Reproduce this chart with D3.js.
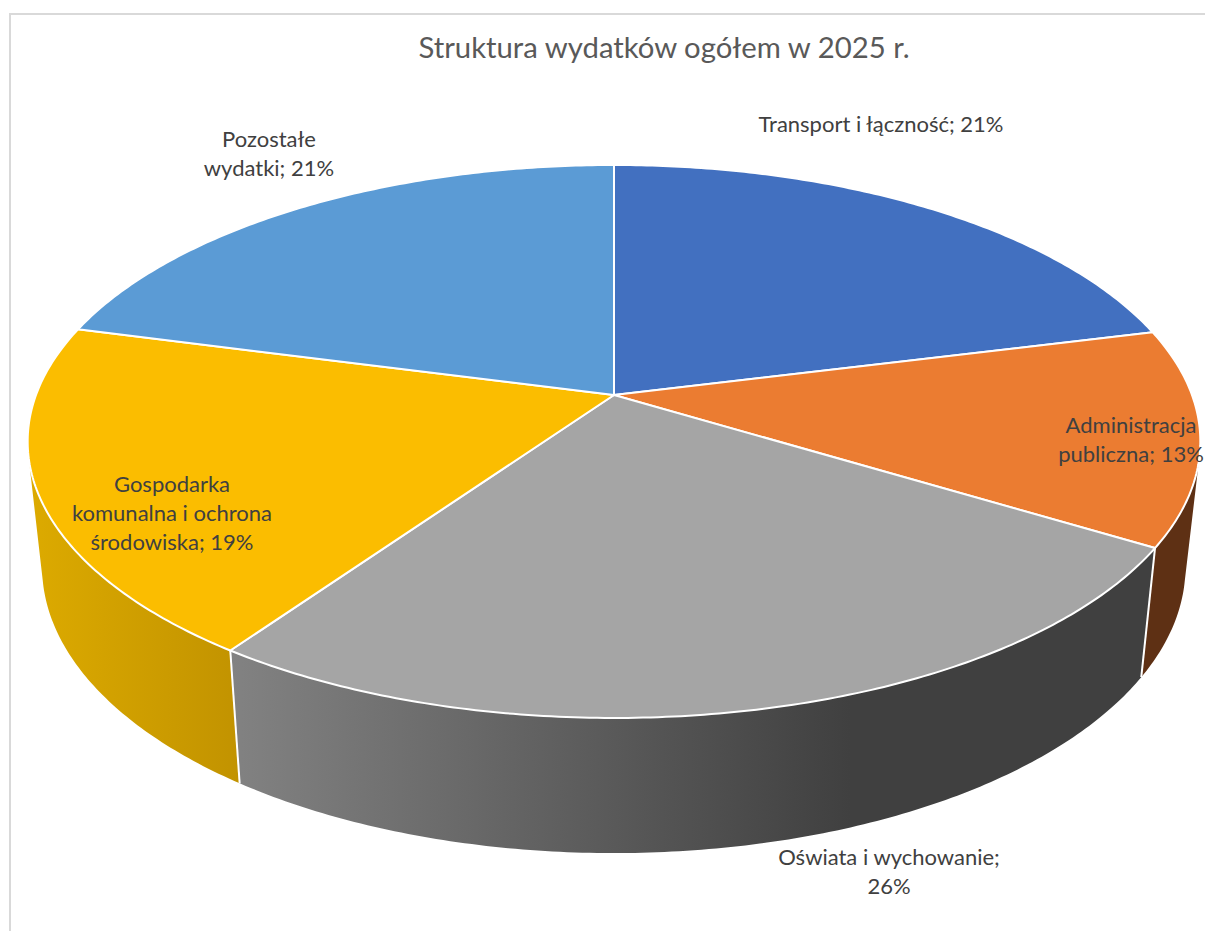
<!DOCTYPE html>
<html lang="pl">
<head>
<meta charset="utf-8">
<title>Struktura wydatków</title>
<script src="https://cdn.jsdelivr.net/npm/d3@7"></script>
<style>
html,body{margin:0;padding:0;background:#fff}
svg{display:block}
text{font-family:Lato,"Noto Sans",sans-serif}
</style>
</head>
<body>
<svg id="chart" width="1205" height="931"></svg>
<script>
// ---- data ----
const chartTitle = "Struktura wydatków ogółem w 2025 r.";
const categories = ["Transport i łączność","Administracja publiczna","Oświata i wychowanie","Gospodarka komunalna i ochrona środowiska","Pozostałe wydatki"];
const values = [21.1, 12.6, 26.0, 19.4, 20.9];
const topColors = ["#4270c0","#eb7c31","#a5a5a5","#fbbd00","#5b9bd5"];
const wallColors = [null,["#5e3014","#5e3014"],["#828282","#404040"],["#dcaa00","#c29300"],null];
const labelBreaks = [
  ["Transport i łączność; {p}"],
  ["Administracja","publiczna; {p}"],
  ["Oświata i wychowanie;","{p}"],
  ["Gospodarka","komunalna i ochrona","środowiska; {p}"],
  ["Pozostałe","wydatki; {p}"]
];

// ---- layout ----
const W = 1205, H = 931;
const apex = {x:614, y:395};           // projected circle centre
const A = 268.7, B = 578, k = 0.168;    // perspective of the top face
const vanish = {x:605, y:6095}, depthScale = 0.975; // converging wall edges
const bottomY = {scale:1.035, shift:110};           // vertical mapping of the bottom face
const labelAnchors = [[881,132],[1131,433],[889,865],[172,492],[269,147]];
const lineHeight = 29;

const svg = d3.select("#chart");
const defs = svg.append("defs");

// frame
svg.append("path")
  .attr("d", d3.line()([[W,14],[10,14],[10,H]]))
  .attr("fill","none").attr("stroke","#d9d9d9").attr("stroke-width",2);

// projection of a unit-circle angle (clockwise from top) on the top or bottom face
function proj(theta, bottom){
  const d = 1 + k*Math.cos(theta);
  const x = apex.x + B*Math.sin(theta)/d;
  const y = apex.y - A*Math.cos(theta)/d;
  if(!bottom) return [x,y];
  return [vanish.x + depthScale*(x-vanish.x), bottomY.scale*y + bottomY.shift];
}
const samples = (a,b) => { const n = Math.max(2,Math.ceil((b-a)*90));
  return d3.range(n+1).map(i => a+(b-a)*i/n); };

// silhouette angles: where the top rim is tangent to the line from the vanishing point
const scan = d3.range(0,2*Math.PI,0.001);
const lean = t => { const p = proj(t); return (p[0]-vanish.x)/(vanish.y-p[1]); };
const silR = scan[d3.greatestIndex(scan,lean)];
const silL = scan[d3.leastIndex(scan,lean)];

const pie = d3.pie().sort(null).startAngle(0).endAngle(2*Math.PI);
const arcs = pie(values);
const line = d3.line();

// gradients
const gradRange = [null,[1143,1199],[232,850],[32,238],null];
wallColors.forEach((c,i)=>{
  if(!c) return;
  const g = defs.append("linearGradient").attr("id","wall"+i)
    .attr("gradientUnits","userSpaceOnUse")
    .attr("x1",gradRange[i][0]).attr("x2",gradRange[i][1]).attr("y1",0).attr("y2",0);
  g.append("stop").attr("offset",0).attr("stop-color",c[0]);
  g.append("stop").attr("offset",1).attr("stop-color",c[1]);
});

// walls
svg.append("g").selectAll("path")
  .data(arcs.filter((d,i)=>wallColors[i] && d.endAngle>silR && d.startAngle<silL))
  .join("path")
  .attr("d", d=>{
    const a = Math.max(d.startAngle,silR), b = Math.min(d.endAngle,silL);
    const ts = samples(a,b);
    return line(ts.map(t=>proj(t,false)).concat(ts.slice().reverse().map(t=>proj(t,true))))+"Z";
  })
  .attr("fill", d=>`url(#wall${d.index})`)
  .attr("stroke", "none");

// seams between walls
svg.append("g").selectAll("line")
  .data(arcs.filter(d=>d.startAngle>silR && d.startAngle<silL))
  .join("line")
  .attr("x1",d=>proj(d.startAngle,false)[0]).attr("y1",d=>proj(d.startAngle,false)[1])
  .attr("x2",d=>proj(d.startAngle,true)[0]).attr("y2",d=>proj(d.startAngle,true)[1])
  .attr("stroke","#fff").attr("stroke-width",2);

// top face
svg.append("g").selectAll("path")
  .data(arcs).join("path")
  .attr("d", d=> line([[apex.x,apex.y]].concat(samples(d.startAngle,d.endAngle).map(t=>proj(t,false))))+"Z")
  .attr("fill",(d,i)=>topColors[i])
  .attr("stroke","#fff").attr("stroke-width",2).attr("stroke-linejoin","round");

// title
svg.append("text").text(chartTitle)
  .attr("x",664).attr("y",58).attr("text-anchor","middle")
  .attr("font-size",29.3).attr("fill","#595959");

// labels
const fmt = d3.format(".0f");
arcs.forEach((d,i)=>{
  const pct = fmt(values[i])+"%";
  const t = svg.append("text").attr("text-anchor","middle").attr("font-size",22).attr("fill","#404040");
  labelBreaks[i].forEach((s,j)=>{
    t.append("tspan").attr("x",labelAnchors[i][0]).attr("y",labelAnchors[i][1]+j*lineHeight)
      .text(s.replace("{p}",pct));
  });
});
</script>
</body>
</html>
